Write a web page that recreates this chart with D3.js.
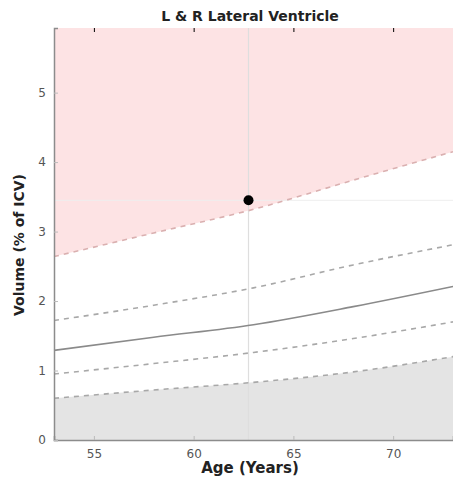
<!DOCTYPE html>
<html>
<head>
<meta charset="utf-8">
<script src="https://cdn.jsdelivr.net/npm/d3@7"></script>
<style>
	body { margin: 0; background: #fff; }
	text { font-family: "DejaVu Sans", sans-serif; }
</style>
</head>
<body>
<div id="container"></div>
<script>
var ages = [53, 58, 63, 68, 73];
var p97 = [2.64, 2.98, 3.32, 3.74, 4.15];
var p85 = [1.72, 1.94, 2.19, 2.52, 2.81];
var p50 = [1.29, 1.48, 1.66, 1.92, 2.21];
var p15 = [0.95, 1.10, 1.26, 1.46, 1.70];
var p03 = [0.60, 0.72, 0.83, 0.98, 1.20];

var xTicks = [55, 60, 65, 70];
var yTicks = [0, 1, 2, 3, 4, 5];

var subjectAge = 62.75;
var subjectVol = 3.45;

var title = "L & R Lateral Ventricle";
var xLabel = "Age (Years)";
var yLabel = "Volume (% of ICV)";

var margin = {top: 28, right: 0, bottom: 42, left: 54},
	width = 453 - margin.left - margin.right,
	height = 482 - margin.top - margin.bottom;

var svg = d3.select("#container")
	.append("svg")
	.attr("width", 453)
	.attr("height", 482);

var plot = svg.append("g")
	.attr("transform", "translate(" + margin.left + "," + margin.top + ")");

var x = d3.scaleLinear().domain([53, 73]).range([0, width]);
var y = d3.scaleLinear().domain([0, 5.93]).range([height, 0]);

var curve = d3.curveMonotoneX;

function series(vals) {
	return ages.map(function(a, i) { return {age: a, v: vals[i]}; });
}

// pink zone above the top centile
plot.append("path")
	.datum(series(p97))
	.attr("fill", "#fde3e4")
	.attr("d", d3.area().curve(curve)
		.x(function(d) { return x(d.age); })
		.y0(function(d) { return y(5.93); })
		.y1(function(d) { return y(d.v); }));

// grey zone below the bottom centile
plot.append("path")
	.datum(series(p03))
	.attr("fill", "#e4e4e4")
	.attr("d", d3.area().curve(curve)
		.x(function(d) { return x(d.age); })
		.y0(function(d) { return y(0); })
		.y1(function(d) { return y(d.v); }));

// crosshair through the subject
plot.append("line")
	.attr("x1", x(subjectAge)).attr("x2", x(subjectAge))
	.attr("y1", 0).attr("y2", height)
	.attr("stroke", "#dedede").attr("stroke-width", 1.2);
plot.append("line")
	.attr("x1", 0).attr("x2", width)
	.attr("y1", y(subjectVol)).attr("y2", y(subjectVol))
	.attr("stroke", "#eeeeee").attr("stroke-width", 1);

var line = d3.line().curve(curve)
	.x(function(d) { return x(d.age); })
	.y(function(d) { return y(d.v); });

var lines = [
	{vals: p97, color: "#dab0b0", dash: "5,5"},
	{vals: p85, color: "#a8a8a8", dash: "5,5"},
	{vals: p50, color: "#8a8a8a", dash: null},
	{vals: p15, color: "#a8a8a8", dash: "5,5"},
	{vals: p03, color: "#a8a8a8", dash: "5,5"}
];

lines.forEach(function(l) {
	plot.append("path")
		.datum(series(l.vals))
		.attr("fill", "none")
		.attr("stroke", l.color)
		.attr("stroke-width", 1.6)
		.attr("stroke-dasharray", l.dash)
		.attr("d", line);
});

// subject point
plot.append("circle")
	.attr("cx", x(subjectAge))
	.attr("cy", y(subjectVol))
	.attr("r", 5)
	.attr("fill", "#000");

// axes
var xAxis = plot.append("g")
	.attr("transform", "translate(0," + height + ")")
	.call(d3.axisBottom(x).tickValues(xTicks).tickFormat(d3.format("d")).tickSize(-4).tickPadding(9));
var yAxis = plot.append("g")
	.call(d3.axisLeft(y).tickValues(yTicks).tickFormat(d3.format("d")).tickSize(-4).tickPadding(8));

// ticks on the top edge too
plot.append("g")
	.call(d3.axisTop(x).tickValues(xTicks).tickSize(-4).tickFormat(""))
	.select(".domain").remove();

[xAxis, yAxis].forEach(function(a) {
	a.select(".domain").attr("stroke", "#8c8c8c").attr("stroke-width", 1.5);
	a.selectAll(".tick line").attr("stroke", "#bbb");
	a.selectAll(".tick text")
		.attr("fill", "#555")
		.style("font-size", "12px")
		.style("font-family", "DejaVu Sans, sans-serif");
});

svg.append("text")
	.attr("x", 250).attr("y", 21)
	.attr("text-anchor", "middle")
	.style("font-size", "14px")
	.style("font-weight", "bold")
	.attr("fill", "#222")
	.text(title);

svg.append("text")
	.attr("x", 250).attr("y", 473)
	.attr("text-anchor", "middle")
	.style("font-size", "15px")
	.style("font-weight", "bold")
	.attr("fill", "#222")
	.text(xLabel);

svg.append("text")
	.attr("transform", "translate(24,245) rotate(-90)")
	.attr("text-anchor", "middle")
	.style("font-size", "14px")
	.style("font-weight", "bold")
	.attr("fill", "#222")
	.text(yLabel);
</script>
</body>
</html>
